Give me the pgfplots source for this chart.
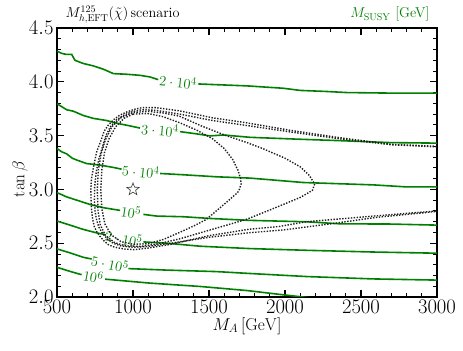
\documentclass[border=0pt]{standalone}
\usepackage{pgfplots}
\pgfplotsset{compat=1.18}
\definecolor{cgreen}{rgb}{0,0.5,0}
\definecolor{cdot}{rgb}{0.12,0.12,0.12}

% open five-pointed star
\pgfdeclareplotmark{ostar}{%
  \pgfpathmoveto{\pgfpointpolar{90}{\pgfplotmarksize}}%
  \pgfpathlineto{\pgfpointpolar{126}{0.42\pgfplotmarksize}}%
  \pgfpathlineto{\pgfpointpolar{162}{\pgfplotmarksize}}%
  \pgfpathlineto{\pgfpointpolar{198}{0.42\pgfplotmarksize}}%
  \pgfpathlineto{\pgfpointpolar{234}{\pgfplotmarksize}}%
  \pgfpathlineto{\pgfpointpolar{270}{0.42\pgfplotmarksize}}%
  \pgfpathlineto{\pgfpointpolar{306}{\pgfplotmarksize}}%
  \pgfpathlineto{\pgfpointpolar{342}{0.42\pgfplotmarksize}}%
  \pgfpathlineto{\pgfpointpolar{18}{\pgfplotmarksize}}%
  \pgfpathlineto{\pgfpointpolar{54}{0.42\pgfplotmarksize}}%
  \pgfpathclose\pgfusepathqstroke}

\pgfplotsset{
  gline/.style={cgreen, line width=1.6bp, no markers},
  dline/.style={cdot, line width=1.4bp, dash pattern=on 1.4bp off 1.5bp, no markers},
}
\tikzset{glabel/.style={cgreen, font=\fontsize{15}{17}\selectfont, inner sep=0pt}}

\begin{document}
\begin{tikzpicture}
\begin{axis}[
    scale only axis,
    width=380bp, height=269bp,
    xmin=500, xmax=3000,
    ymin=2, ymax=4.5,
    xtick={500,1000,1500,2000,2500,3000},
    ytick={2,2.5,3,3.5,4,4.5},
    minor x tick num=4, minor y tick num=4,
    tick align=inside,
    major tick length=7bp, minor tick length=4bp,
    major tick style={line width=1.3bp, black},
    minor tick style={line width=0.9bp, black},
    axis line style={line width=1.5bp},
    tick label style={font=\fontsize{19.5}{22}\selectfont},
    x tick label style={/pgf/number format/1000 sep={}},
    y tick label style={/pgf/number format/fixed, /pgf/number format/fixed zerofill, /pgf/number format/precision=1},
]

% M_SUSY contours (green), split where the labels sit
\addplot[gline] coordinates {(500,4.285)(531,4.264)(560,4.255)(597,4.254)(618,4.20)(673,4.17)(739,4.148)(805,4.117)(871,4.076)(959,4.07)(1046,4.06)(1112,4.045)(1166,4.02)};
\addplot[gline] coordinates {(1430,3.98)(1750,3.962)(1989,3.94)(2099,3.92)(2274,3.91)(2406,3.90)(2691,3.895)(3000,3.895)};

\addplot[gline] coordinates {(500,3.796)(564,3.74)(607,3.727)(673,3.687)(739,3.66)(827,3.64)(893,3.615)(980,3.59)(1046,3.57)};
\addplot[gline] coordinates {(1309,3.537)(1419,3.516)(1507,3.497)(1594,3.506)(1770,3.484)(2099,3.466)(2362,3.453)(2691,3.435)(3000,3.43)};

\addplot[gline] coordinates {(500,3.38)(530,3.35)(564,3.33)(600,3.29)(630,3.273)(695,3.24)(783,3.226)(871,3.204)(925,3.188)};
\addplot[gline] coordinates {(1178,3.148)(1331,3.136)(1551,3.117)(1770,3.105)(2120,3.064)(2581,3.042)(2801,3.023)(3000,3.023)};

\addplot[gline] coordinates {(500,2.97)(564,2.93)(630,2.90)(717,2.86)(805,2.83)(915,2.805)};
\addplot[gline] coordinates {(1068,2.768)(1156,2.752)(1331,2.746)(1507,2.73)(1770,2.712)(2143,2.699)(2362,2.68)(2691,2.678)(3000,2.668)};

\addplot[gline] coordinates {(500,2.706)(586,2.668)(673,2.628)(761,2.596)(816,2.58)};
\addplot[gline] coordinates {(1068,2.512)(1222,2.50)(1441,2.472)(1770,2.45)(2143,2.434)(2581,2.418)(3000,2.407)};

\addplot[gline] coordinates {(500,2.447)(586,2.41)(673,2.369)(728,2.353)};
\addplot[gline] coordinates {(969,2.264)(1222,2.25)(1551,2.236)(1750,2.22)(2143,2.19)(2581,2.168)(3000,2.157)};

\addplot[gline] coordinates {(500,2.276)(586,2.238)(662,2.207)};
\addplot[gline] coordinates {(816,2.166)(1112,2.129)(1441,2.098)(1750,2.06)(1990,2.02)(2180,1.99)};

\node[glabel, rotate=-6] at (axis cs:1296,4.0) {$2\cdot 10^4$};
\node[glabel, rotate=-5] at (axis cs:1178,3.556) {$3\cdot 10^4$};
\node[glabel, rotate=-6] at (axis cs:1052,3.17) {$5\cdot 10^4$};
\node[glabel, rotate=-9] at (axis cs:987,2.79) {$10^5$};
\node[glabel, rotate=-11] at (axis cs:940,2.545) {$2\cdot 10^5$};
\node[glabel, rotate=-12] at (axis cs:849,2.31) {$5\cdot 10^5$};
\node[glabel, rotate=-11] at (axis cs:739,2.19) {$10^6$};

% dotted contours
\addplot[dline] coordinates {(3000,3.40)(2691,3.42)(2362,3.48)(2031,3.55)(1743,3.62)(1524,3.665)(1306,3.73)(1150,3.76)(1060,3.76)(1011,3.745)(960,3.72)(913,3.69)(870,3.645)(836,3.595)(810,3.54)(793,3.47)(760,3.345)(738,3.19)(726,3.09)(723,3.00)(724,2.90)(727,2.815)(734,2.73)(744,2.66)(760,2.61)(782,2.565)(806,2.525)(836,2.488)(868,2.468)(902,2.456)(950,2.445)(1011,2.44)(1100,2.455)(1250,2.49)(1500,2.57)(1765,2.63)(1961,2.655)(2143,2.70)(2400,2.73)(2581,2.752)(3000,2.80)};

\addplot[dline] coordinates {(3000,3.395)(2700,3.415)(2362,3.47)(2031,3.535)(1743,3.595)(1524,3.64)(1306,3.70)(1150,3.735)(1060,3.74)(1000,3.725)(940,3.69)(890,3.645)(850,3.58)(822,3.50)(800,3.40)(775,3.28)(758,3.16)(748,3.03)(746,2.90)(750,2.80)(760,2.72)(775,2.65)(800,2.59)(830,2.54)(870,2.50)(920,2.475)(1000,2.462)(1100,2.47)(1250,2.50)(1500,2.555)(1750,2.595)(2000,2.625)(2300,2.68)(2600,2.74)(3000,2.795)};

\addplot[dline] coordinates {(1306,3.68)(1450,3.59)(1612,3.50)(1750,3.435)(1852,3.38)(2000,3.29)(2100,3.21)(2160,3.13)(2195,3.05)(2180,2.99)(2100,2.925)(1980,2.855)(1850,2.78)(1743,2.72)(1524,2.63)(1306,2.54)(1150,2.49)(1050,2.47)(950,2.475)(880,2.505)(820,2.57)(785,2.67)(770,2.80)(765,3.0)(772,3.18)(790,3.33)(818,3.46)(860,3.58)(920,3.665)(1000,3.715)(1100,3.725)(1200,3.71)(1306,3.68)};

\addplot[dline] coordinates {(1000,3.70)(1100,3.705)(1200,3.675)(1306,3.62)(1420,3.55)(1524,3.47)(1600,3.38)(1655,3.28)(1690,3.18)(1708,3.10)(1711,3.05)(1700,3.0)(1688,2.97)(1590,2.85)(1481,2.72)(1400,2.66)(1306,2.60)(1200,2.535)(1100,2.495)(1000,2.49)(920,2.515)(855,2.58)(815,2.68)(795,2.82)(788,3.0)(795,3.18)(812,3.34)(842,3.47)(885,3.58)(940,3.66)(1000,3.70)};

% benchmark point
\addplot[only marks, mark=ostar, mark size=6.5bp, black!80, mark options={line width=0.6bp}] coordinates {(1000,3.0)};

\end{axis}

\node[anchor=base west, font=\fontsize{14.3}{16}\selectfont] at (5bp,279bp) {$M_{h,\mathrm{EFT}}^{125}(\tilde{\chi})$\,scenario};
\node[anchor=base east, cgreen, font=\fontsize{14.3}{16}\selectfont] at (376bp,279bp) {$M_{\mathrm{SUSY}}$ [GeV]};
\node[font=\fontsize{18.5}{21}\selectfont] at (190bp,-29bp) {$M_A\,[\mathrm{GeV}]$};
\node[rotate=90, font=\fontsize{18.5}{21}\selectfont] at (-37bp,118bp) {$\tan\beta$};

\pgfresetboundingbox
\path[use as bounding box] (-57bp,-54bp) rectangle (406bp,297bp);
\end{tikzpicture}
\end{document}
